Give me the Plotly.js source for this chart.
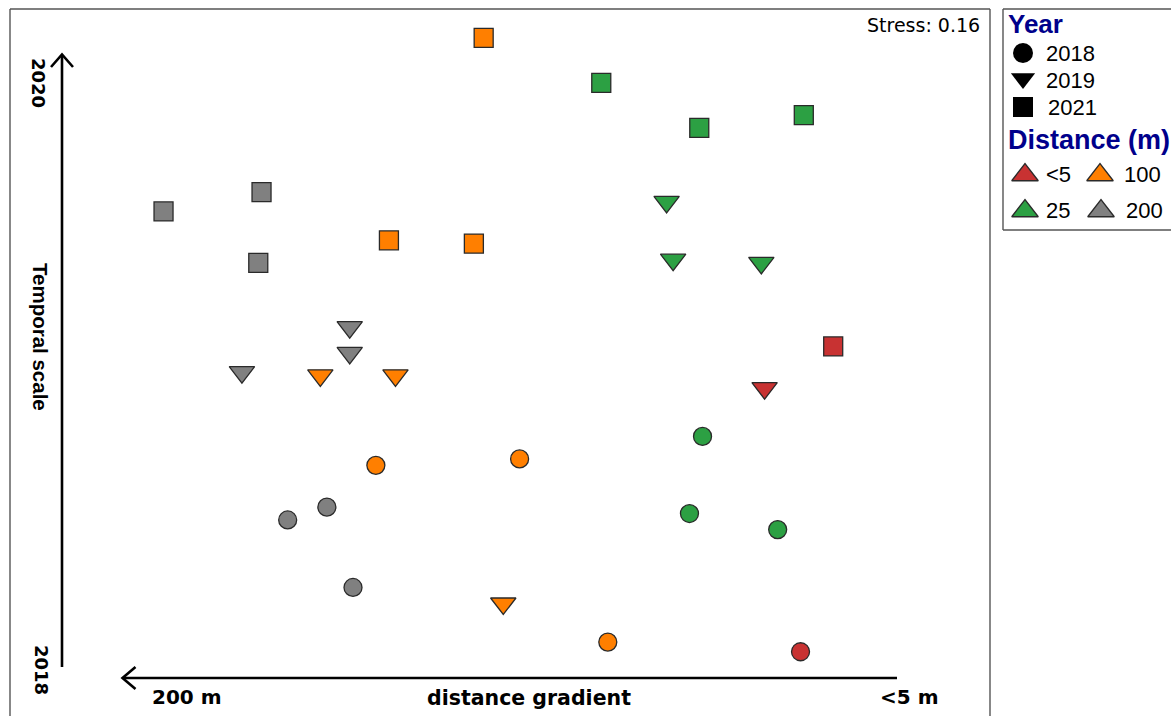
<!DOCTYPE html>
<html>
<head>
<meta charset="utf-8">
<script src="https://cdn.plot.ly/plotly-3.0.1.min.js"></script>
<style>
  html, body { margin: 0; padding: 0; background: #ffffff; }
  #chart { width: 1171px; height: 716px; }
</style>
</head>
<body>
<div id="chart"></div>
<script>
// NMDS ordination scores, one set of arrays per sampling year
const distanceClasses = ['<5', '25', '100', '200'];
const yearLabels = ['2018', '2019', '2021'];

const dist2018 = ['100', '100', '100', '200', '200', '200', '25', '25', '25', '<5'];
const nmds1_2018 = [-0.38, 0.06, 0.33, -0.65, -0.53, -0.45, 0.62, 0.58, 0.85, 0.92];
const nmds2_2018 = [-0.32, -0.30, -0.87, -0.49, -0.45, -0.70, -0.23, -0.47, -0.52, -0.90];

const dist2019 = ['200', '200', '200', '100', '100', '100', '25', '25', '25', '<5'];
const nmds1_2019 = [-0.46, -0.46, -0.79, -0.55, -0.32, 0.01, 0.51, 0.53, 0.80, 0.81];
const nmds2_2019 = [0.11, 0.03, -0.03, -0.04, -0.04, -0.75, 0.50, 0.32, 0.31, -0.08];

const dist2021 = ['200', '200', '200', '100', '100', '100', '25', '25', '25', '<5'];
const nmds1_2021 = [-1.03, -0.73, -0.74, -0.05, -0.34, -0.08, 0.31, 0.61, 0.93, 1.02];
const nmds2_2021 = [0.47, 0.53, 0.31, 1.01, 0.38, 0.37, 0.87, 0.73, 0.77, 0.05];

const stressValue = 0.16;

// ---- styling ----
const W = 1171, H = 716;
const classColor = { '<5': '#C83232', '25': '#2CA043', '100': '#FF7F00', '200': '#808080' };
const yearSymbol = { '2018': 'circle', '2019': 'triangle-down', '2021': 'square' };
const yearSize = { '2018': 18, '2019': 22, '2021': 19 };
const outline = { color: '#2a2a2a', width: 1.3 };
const navy = '#00008B';
const boldSans = 'Liberation Sans, Arial, sans-serif';
const plainSans = 'Liberation Sans, Arial, sans-serif';
const dejavu = 'DejaVu Sans, sans-serif';

const byYear = {
  '2018': { d: dist2018, x: nmds1_2018, y: nmds2_2018 },
  '2019': { d: dist2019, x: nmds1_2019, y: nmds2_2019 },
  '2021': { d: dist2021, x: nmds1_2021, y: nmds2_2021 }
};

const traces = [];
yearLabels.forEach(yr => {
  const s = byYear[yr];
  traces.push({
    type: 'scatter', mode: 'markers', xaxis: 'x', yaxis: 'y',
    x: s.x, y: s.y, name: yr, showlegend: false, hoverinfo: 'skip',
    cliponaxis: false,
    marker: {
      symbol: yearSymbol[yr], size: yearSize[yr],
      color: s.d.map(c => classColor[c]), line: outline
    }
  });
});

// ---- key panel (pixel overlay axes x2/y2) ----
const keyYearX = 1023;
const keyYearRows = [53, 78.5, 107];
const keyYearSizes = [20, 21, 20];
yearLabels.forEach((yr, i) => {
  traces.push({
    type: 'scatter', mode: 'markers', xaxis: 'x2', yaxis: 'y2',
    x: [keyYearX], y: [keyYearRows[i]], showlegend: false, hoverinfo: 'skip',
    marker: { symbol: yearSymbol[yr], size: keyYearSizes[i], color: '#000000',
              line: { color: '#000000', width: 0 } }
  });
});
// distance key laid out as 2 x 2: <5, 100 / 25, 200
const keyDistPos = { '<5': [1025, 175], '100': [1100, 175], '25': [1025, 211], '200': [1101, 211] };
distanceClasses.forEach(c => {
  traces.push({
    type: 'scatter', mode: 'markers', xaxis: 'x2', yaxis: 'y2',
    x: [keyDistPos[c][0]], y: [keyDistPos[c][1]], showlegend: false, hoverinfo: 'skip',
    marker: { symbol: 'triangle-up', size: 23, color: classColor[c], line: outline }
  });
});

function txt(text, x, y, opts) {
  return Object.assign({
    text: text, x: x, y: y, xref: 'x2', yref: 'y2', showarrow: false,
    xanchor: 'left', yanchor: 'middle',
    font: { family: plainSans, size: 22, color: '#000000' }
  }, opts || {});
}

const annotations = [
  // key titles and labels
  txt('<b>Year</b>', 1006, 24, { font: { family: boldSans, size: 26, color: navy } }),
  txt(yearLabels[0], 1044, 53),
  txt(yearLabels[1], 1044, 80),
  txt(yearLabels[2], 1046, 107),
  txt('<b>Distance (m)</b>', 1006, 140, { font: { family: boldSans, size: 27, color: navy } }),
  txt(distanceClasses[0], 1044, 174),
  txt(distanceClasses[2], 1122, 174),
  txt(distanceClasses[1], 1044, 210),
  txt(distanceClasses[3], 1124, 210),
  // stress value
  txt('Stress: ' + stressValue.toFixed(2), 982, 25,
      { xanchor: 'right', font: { family: dejavu, size: 19, color: '#000000' } }),
  // gradient arrow labels
  txt('<b>200 m</b>', 150, 697, { font: { family: dejavu, size: 20, color: '#000000' } }),
  txt('<b>distance gradient</b>', 529, 698,
      { xanchor: 'center', font: { family: dejavu, size: 20.5, color: '#000000' } }),
  txt('<b>&lt;5 m</b>', 878, 697, { font: { family: dejavu, size: 20, color: '#000000' } }),
  txt('<b>2020</b>', 39, 83,
      { xanchor: 'center', textangle: 90, font: { family: dejavu, size: 18, color: '#000000' } }),
  txt('<b>2018</b>', 42, 670,
      { xanchor: 'center', textangle: 90, font: { family: dejavu, size: 18, color: '#000000' } }),
  txt('<b>Temporal scale</b>', 41, 337,
      { xanchor: 'center', textangle: 90, font: { family: boldSans, size: 20.5, color: '#000000' } })
];

const frame = { color: '#555555', width: 1.4 };
const arrowLine = { color: '#000000', width: 2.6 };
function seg(x0, y0, x1, y1, line) {
  return { type: 'line', xref: 'x2', yref: 'y2', x0: x0, y0: y0, x1: x1, y1: y1, line: line };
}
const shapes = [
  // plot frame (bottom edge falls outside the figure)
  seg(10, 9, 10, 720, frame),
  seg(10, 9, 990, 9, frame),
  seg(990, 9, 990, 720, frame),
  // key frame
  seg(1003, 9, 1003, 230, frame),
  seg(1003, 9, 1175, 9, frame),
  seg(1003, 230, 1175, 230, frame),
  // temporal arrow
  seg(62, 667, 62, 55, arrowLine),
  { type: 'path', xref: 'x2', yref: 'y2', path: 'M 51,67 L 62,54.5 L 73,67', line: arrowLine },
  // distance arrow
  seg(897, 678, 123, 678, arrowLine),
  { type: 'path', xref: 'x2', yref: 'y2', path: 'M 135.5,667 L 122.5,678 L 135.5,689', line: arrowLine }
];

const hidden = { visible: false, showgrid: false, zeroline: false, fixedrange: true };
const layout = {
  width: W, height: H,
  margin: { l: 0, r: 0, t: 0, b: 0, pad: 0 },
  paper_bgcolor: '#ffffff', plot_bgcolor: 'rgba(0,0,0,0)',
  showlegend: false,
  xaxis: Object.assign({ domain: [10 / W, 990 / W], range: [-1.5, 1.5], anchor: 'y' }, hidden),
  yaxis: Object.assign({ domain: [0, 707 / H], range: [-1.1, 1.1], anchor: 'x' }, hidden),
  xaxis2: Object.assign({ domain: [0, 1], range: [0, W], anchor: 'y2' }, hidden),
  yaxis2: Object.assign({ domain: [0, 1], range: [H, 0], anchor: 'x2' }, hidden),
  annotations: annotations,
  shapes: shapes
};

Plotly.newPlot('chart', traces, layout, { staticPlot: true, displayModeBar: false });
</script>
</body>
</html>
